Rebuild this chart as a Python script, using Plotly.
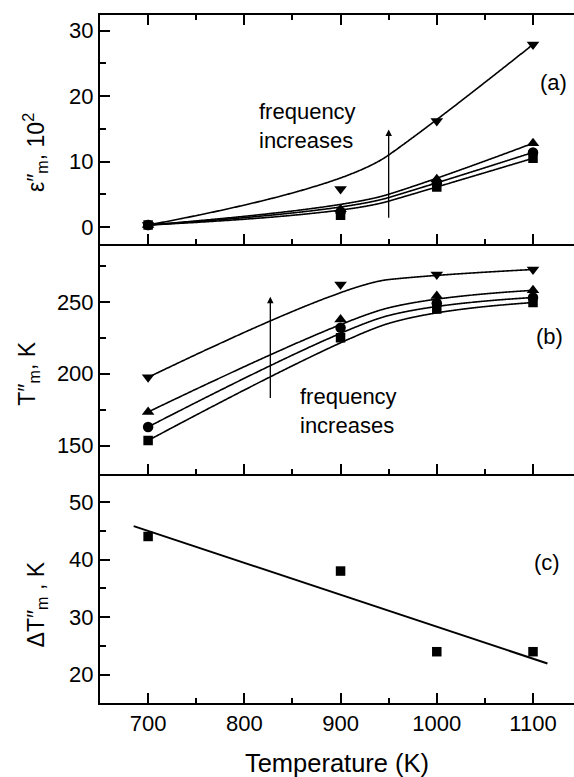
import numpy as np
import plotly.graph_objects as go
from plotly.subplots import make_subplots

# ---------------- data ----------------
T = [700, 900, 1000, 1100]

# panel (a): eps''_m, 10^2
eps_sq = [0.3, 1.8, 6.1, 10.5]
eps_ci = [0.3, 2.3, 6.7, 11.4]
eps_up = [0.3, 2.7, 7.3, 12.8]
eps_dn = [0.3, 5.8, 16.2, 27.9]

# panel (b): T''_m, K
tm_sq = [153.6, 225.0, 245.0, 249.5]
tm_ci = [163.0, 232.0, 249.0, 253.0]
tm_up = [173.4, 237.7, 254.0, 258.0]
tm_dn = [197.5, 262.0, 269.0, 272.5]

# panel (c): Delta T''_m, K
dT = [44, 38, 24, 24]

symbols = ["square", "circle", "triangle-up", "triangle-down"]
sizes = [9.5, 10.5, 11, 11]

FONT = "Liberation Sans, Arial, Helvetica, sans-serif"


# -------- B-spline connection (data points used as control points) --------
def bspline(x, y, degree=2, n=300):
    P = np.column_stack([x, y]).astype(float)
    m = len(P)
    inner = np.linspace(0, 1, m - degree + 1)
    knots = np.concatenate([[0] * degree, inner, [1] * degree])
    u = np.linspace(0, 1, n)
    u[-1] -= 1e-12

    def N(i, k, t):
        if k == 0:
            return ((knots[i] <= t) & (t < knots[i + 1])).astype(float)
        a = 0.0
        d1 = knots[i + k] - knots[i]
        d2 = knots[i + k + 1] - knots[i + 1]
        if d1 > 0:
            a = a + (t - knots[i]) / d1 * N(i, k - 1, t)
        if d2 > 0:
            a = a + (knots[i + k + 1] - t) / d2 * N(i + 1, k - 1, t)
        return a

    B = np.column_stack([N(i, degree, u) for i in range(m)])
    C = B @ P
    return C[:, 0], C[:, 1]


fig = make_subplots(rows=3, cols=1, shared_xaxes=True, vertical_spacing=0)


def add_panel(series, row):
    for ys, sym, sz in zip(series, symbols, sizes):
        cx, cy = bspline(T, ys)
        fig.add_trace(go.Scatter(x=cx, y=cy, mode="lines",
                                 line=dict(color="black", width=1.6, shape="spline"),
                                 showlegend=False, hoverinfo="skip"), row=row, col=1)
        fig.add_trace(go.Scatter(x=T, y=ys, mode="markers",
                                 marker=dict(symbol=sym, size=sz, color="black"),
                                 showlegend=False), row=row, col=1)


add_panel([eps_sq, eps_ci, eps_up, eps_dn], 1)
add_panel([tm_sq, tm_ci, tm_up, tm_dn], 2)

# panel (c): linear fit
coef = np.polyfit(T, dT, 1)
xl = np.array([685, 1115])
fig.add_trace(go.Scatter(x=xl, y=np.polyval(coef, xl), mode="lines",
                         line=dict(color="black", width=2),
                         showlegend=False, hoverinfo="skip"), row=3, col=1)
fig.add_trace(go.Scatter(x=T, y=dT, mode="markers",
                         marker=dict(symbol="square", size=9.5, color="black"),
                         showlegend=False), row=3, col=1)

axis_common = dict(showline=True, linecolor="black", linewidth=2,
                   ticks="inside", ticklen=10, tickwidth=1.6, tickcolor="black",
                   showgrid=False, zeroline=False, automargin=False,
                   tickfont=dict(family=FONT, size=22, color="black"))

xr = [650, 1142.6]
for i in (1, 2, 3):
    fig.update_xaxes(range=xr, dtick=100, tick0=700,
                     minor=dict(ticks="inside", ticklen=5, tickwidth=1.6,
                                tickcolor="black", dtick=50, tick0=650),
                     row=i, col=1, **axis_common)
fig.update_xaxes(mirror="ticks", row=1, col=1)
fig.update_xaxes(title=dict(text="Temperature (K)", standoff=26,
                            font=dict(family=FONT, size=25.5, color="black")),
                 row=3, col=1)

fig.update_yaxes(range=[-2.65, 32.4], dtick=10, tick0=0,
                 minor=dict(ticks="inside", ticklen=6, tickwidth=1.6,
                            tickcolor="black", dtick=5),
                 row=1, col=1, **axis_common)
fig.update_yaxes(range=[130.5, 290], dtick=50, tick0=150,
                 minor=dict(ticks="inside", ticklen=6, tickwidth=1.6,
                            tickcolor="black", dtick=25),
                 row=2, col=1, **axis_common)
fig.update_yaxes(range=[15.1, 54.9], dtick=10, tick0=20,
                 minor=dict(ticks="inside", ticklen=6, tickwidth=1.6,
                            tickcolor="black", dtick=5),
                 row=3, col=1, **axis_common)

tfont = dict(family=FONT, size=22, color="black")
ytfont = dict(family=FONT, size=23, color="black")

annotations = [
    # arrows
    dict(x=950, y=14.9, ax=950, ay=1.2, xref="x", yref="y", axref="x", ayref="y",
         showarrow=True, arrowhead=2, arrowsize=1, arrowwidth=1.3, arrowcolor="black", text=""),
    dict(x=827, y=253.5, ax=827, ay=182, xref="x2", yref="y2", axref="x2", ayref="y2",
         showarrow=True, arrowhead=2, arrowsize=1, arrowwidth=1.3, arrowcolor="black", text=""),
    # texts
    dict(x=813, y=15.4, xref="x", yref="y", text="frequency<br>increases",
         showarrow=False, xanchor="left", yanchor="middle", align="left", font=tfont),
    dict(x=856, y=174.4, xref="x2", yref="y2", text="frequency<br>increases",
         showarrow=False, xanchor="left", yanchor="middle", align="left", font=tfont),
    dict(x=1121, y=22.1, xref="x", yref="y", text="(a)", showarrow=False, font=tfont),
    dict(x=1117.6, y=225.9, xref="x2", yref="y2", text="(b)", showarrow=False, font=tfont),
    dict(x=1114.6, y=39.5, xref="x3", yref="y3", text="(c)", showarrow=False, font=tfont),
    # y titles
    dict(x=(35 - 100) / 474, y=11.3, xref="paper", yref="y", textangle=-90,
         text="ε″<sub>m</sub>, 10<sup>2</sup>", showarrow=False, font=ytfont,
         xanchor="center", yanchor="middle"),
    dict(x=(29 - 100) / 474, y=200, xref="paper", yref="y2", textangle=-90,
         text="T″<sub>m</sub>, K", showarrow=False, font=ytfont,
         xanchor="center", yanchor="middle"),
    dict(x=(37 - 100) / 474, y=32.2, xref="paper", yref="y3", textangle=-90,
         text="ΔT″<sub>m</sub> , K", showarrow=False, font=ytfont,
         xanchor="center", yanchor="middle"),
]

fig.update_layout(width=574, height=777,
                  margin=dict(l=100, r=0, t=15, b=74),
                  plot_bgcolor="white", paper_bgcolor="white",
                  font=dict(family=FONT, color="black"),
                  annotations=annotations, showlegend=False)

fig.write_html("out.html")
